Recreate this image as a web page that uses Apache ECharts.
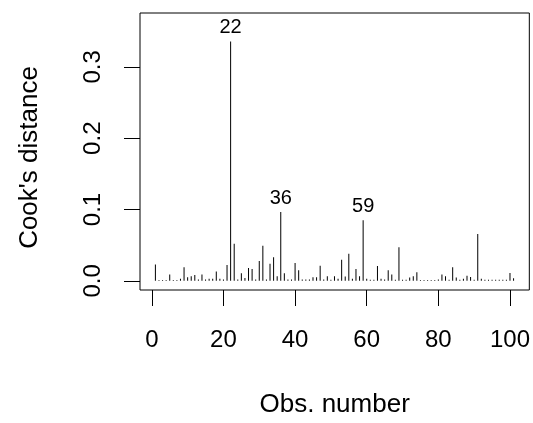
<!DOCTYPE html>
<html>
<head>
<meta charset="utf-8">
<script src="https://cdn.jsdelivr.net/npm/echarts@6/dist/echarts.min.js"></script>
<style>
html,body{margin:0;padding:0;background:#fff;}
#chart{width:533px;height:423px;}
</style>
</head>
<body>
<div id="chart"></div>
<script>
const obsNumbers = [1,2,3,4,5,6,7,8,9,10,11,12,13,14,15,16,17,18,19,20,
  21,22,23,24,25,26,27,28,29,30,31,32,33,34,35,36,37,38,39,40,
  41,42,43,44,45,46,47,48,49,50,51,52,53,54,55,56,57,58,59,60,
  61,62,63,64,65,66,67,68,69,70,71,72,73,74,75,76,77,78,79,80,
  81,82,83,84,85,86,87,88,89,90,91,92,93,94,95,96,97,98,99,100,101];
const cookValues = [
  0.023,0.001,0.001,0.001,0.009,0.001,0.001,0.003,0.019,0.005,
  0.0065,0.008,0.002,0.009,0.002,0.003,0.003,0.013,0.003,0.002,
  0.022,0.3355,0.052,0.002,0.0105,0.004,0.018,0.0166,0.002,0.0277,
  0.049,0.002,0.024,0.033,0.0065,0.0965,0.0106,0.002,0.002,0.025,
  0.0148,0.002,0.002,0.002,0.005,0.005,0.021,0.002,0.0065,0.0015,
  0.0065,0.003,0.0295,0.006,0.038,0.003,0.0166,0.0065,0.0849,0.003,
  0.0015,0.0015,0.0207,0.003,0.002,0.0148,0.009,0.0015,0.047,0.0015,
  0.0015,0.0046,0.0065,0.012,0.001,0.001,0.001,0.001,0.001,0.002,
  0.009,0.0065,0.0015,0.019,0.0046,0.0015,0.003,0.007,0.0055,0.0015,
  0.0655,0.003,0.0015,0.0015,0.0015,0.0015,0.0015,0.0015,0.0015,0.011,
  0.0037];
const labeledObs = [22, 36, 59];
const xTicks = [0, 20, 40, 60, 80, 100];
const yTicks = [0, 0.1, 0.2, 0.3];

const FONT = 'Liberation Sans, Arial, sans-serif';
const data = obsNumbers.map((n, k) => {
  const item = { value: [n, cookValues[k]] };
  if (labeledObs.includes(n)) {
    item.label = { show: true, position: 'top', distance: 4, formatter: String(n),
      color: '#000', fontSize: 20, fontFamily: FONT };
  }
  return item;
});

const chart = echarts.init(document.getElementById('chart'), null, { renderer: 'canvas' });
chart.setOption({
  animation: false,
  backgroundColor: '#fff',
  grid: { left: 140, right: 3, top: 13, bottom: 130, show: true, borderColor: '#000', borderWidth: 1, backgroundColor: 'transparent' },
  xAxis: {
    type: 'value', min: -3.3, max: 105.4,
    name: 'Obs. number', nameLocation: 'middle', nameGap: 102,
    nameTextStyle: { fontSize: 26, color: '#000', fontFamily: FONT },
    axisLine: { show: false, onZero: false },
    axisTick: { show: true, length: 16, lineStyle: { color: '#000' }, customValues: xTicks },
    axisLabel: { customValues: xTicks, fontSize: 24, color: '#000', fontFamily: FONT, margin: 38 },
    splitLine: { show: false }
  },
  yAxis: {
    type: 'value', min: -0.0129, max: 0.3756,
    name: "Cook's distance", nameLocation: 'middle', nameGap: 97,
    nameTextStyle: { fontSize: 26, color: '#000', fontFamily: FONT, padding: [0, 12, 0, 0] },
    axisLine: { show: false, onZero: false },
    axisTick: { show: true, length: 16, lineStyle: { color: '#000' }, customValues: yTicks },
    axisLabel: { customValues: yTicks, rotate: 90, fontSize: 24, color: '#000', fontFamily: FONT, margin: 35,
      formatter: v => v.toFixed(1) },
    splitLine: { show: false }
  },
  series: [{
    type: 'bar',
    data: data,
    barWidth: 1,
    itemStyle: { color: '#000' },
    silent: true
  }]
});
</script>
</body>
</html>
